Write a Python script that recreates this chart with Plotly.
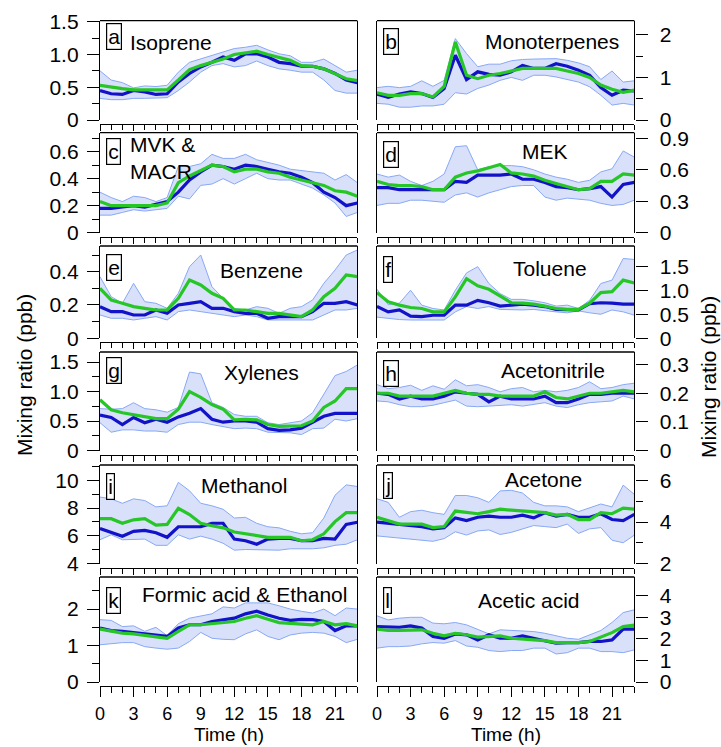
import plotly.graph_objects as go

W, H = 721, 747
hours = list(range(24))

# ---------------- data ----------------
isoprene_median = [0.45,0.40,0.39,0.45,0.43,0.39,0.40,0.58,0.71,0.81,0.88,0.96,0.91,1.01,1.01,0.96,0.88,0.86,0.82,0.82,0.78,0.71,0.61,0.57]
isoprene_mean   = [0.53,0.50,0.48,0.46,0.46,0.45,0.46,0.61,0.77,0.83,0.88,0.93,1.00,1.03,1.05,1.00,0.95,0.91,0.83,0.82,0.78,0.71,0.63,0.60]
isoprene_high   = [0.75,0.61,0.57,0.49,0.52,0.51,0.53,0.73,0.88,0.93,0.98,1.04,1.09,1.11,1.14,1.07,1.01,0.98,0.88,0.88,0.93,0.83,0.73,0.76]
isoprene_low    = [0.33,0.31,0.31,0.33,0.33,0.34,0.34,0.45,0.58,0.73,0.83,0.86,0.81,0.83,0.90,0.83,0.78,0.76,0.73,0.73,0.61,0.45,0.41,0.41]

monoterpenes_median = [0.61,0.53,0.61,0.66,0.62,0.53,0.74,1.52,0.95,1.13,1.07,1.05,1.13,1.28,1.21,1.21,1.32,1.26,1.17,1.05,0.76,0.58,0.70,0.68]
monoterpenes_mean   = [0.64,0.58,0.58,0.62,0.62,0.54,0.79,1.83,1.05,0.97,1.05,1.09,1.15,1.21,1.21,1.21,1.21,1.15,1.09,1.00,0.82,0.72,0.65,0.70]
monoterpenes_high   = [0.76,0.79,0.76,0.79,0.92,0.79,0.93,1.91,1.56,1.25,1.31,1.31,1.39,1.42,1.43,1.44,1.44,1.40,1.34,1.25,0.95,1.15,0.89,0.92]
monoterpenes_low    = [0.39,0.37,0.30,0.30,0.33,0.33,0.37,0.64,0.61,0.74,0.82,0.93,1.00,0.93,1.05,1.05,1.01,0.95,0.89,0.78,0.58,0.35,0.39,0.35]

mvk_median = [0.18,0.18,0.19,0.20,0.19,0.21,0.23,0.30,0.39,0.45,0.50,0.49,0.47,0.50,0.49,0.47,0.45,0.44,0.41,0.37,0.30,0.26,0.20,0.22]
mvk_mean   = [0.23,0.20,0.20,0.20,0.20,0.20,0.22,0.37,0.42,0.46,0.50,0.49,0.45,0.47,0.47,0.45,0.44,0.41,0.39,0.37,0.35,0.31,0.30,0.27]
mvk_high   = [0.30,0.26,0.23,0.27,0.26,0.23,0.26,0.49,0.49,0.51,0.58,0.55,0.55,0.58,0.54,0.52,0.50,0.47,0.46,0.45,0.44,0.39,0.43,0.37]
mvk_low    = [0.13,0.13,0.15,0.17,0.16,0.17,0.18,0.27,0.25,0.35,0.36,0.40,0.36,0.40,0.44,0.40,0.39,0.39,0.36,0.33,0.28,0.22,0.12,0.15]

mek_median = [0.43,0.43,0.41,0.41,0.41,0.41,0.41,0.49,0.48,0.55,0.55,0.55,0.56,0.51,0.51,0.48,0.44,0.43,0.41,0.42,0.44,0.34,0.46,0.48]
mek_mean   = [0.49,0.46,0.45,0.45,0.44,0.41,0.41,0.53,0.57,0.59,0.62,0.65,0.57,0.56,0.54,0.50,0.47,0.44,0.41,0.42,0.49,0.49,0.56,0.55]
mek_high   = [0.56,0.53,0.55,0.49,0.45,0.49,0.56,0.82,0.83,0.60,0.63,0.64,0.64,0.63,0.60,0.56,0.53,0.51,0.48,0.50,0.58,0.61,0.78,0.72]
mek_low    = [0.26,0.28,0.28,0.31,0.31,0.30,0.29,0.36,0.38,0.34,0.38,0.41,0.44,0.45,0.45,0.34,0.31,0.33,0.32,0.31,0.28,0.26,0.27,0.31]

benzene_median = [0.19,0.16,0.16,0.14,0.14,0.17,0.15,0.20,0.21,0.22,0.18,0.18,0.16,0.15,0.15,0.12,0.13,0.13,0.13,0.16,0.21,0.21,0.22,0.20]
benzene_mean   = [0.30,0.23,0.21,0.19,0.18,0.17,0.17,0.24,0.35,0.32,0.27,0.24,0.17,0.17,0.16,0.15,0.15,0.14,0.13,0.17,0.25,0.30,0.38,0.37]
benzene_high   = [0.37,0.25,0.21,0.33,0.22,0.21,0.18,0.27,0.43,0.50,0.31,0.24,0.18,0.17,0.19,0.18,0.15,0.18,0.19,0.23,0.33,0.41,0.50,0.53]
benzene_low    = [0.14,0.12,0.12,0.11,0.12,0.13,0.11,0.16,0.17,0.16,0.15,0.14,0.13,0.14,0.13,0.11,0.11,0.11,0.11,0.11,0.14,0.17,0.17,0.18]

toluene_median = [0.66,0.55,0.59,0.46,0.45,0.48,0.48,0.69,0.69,0.79,0.74,0.67,0.69,0.71,0.69,0.66,0.60,0.59,0.59,0.72,0.74,0.73,0.71,0.71]
toluene_mean   = [0.95,0.76,0.69,0.64,0.62,0.55,0.55,0.86,1.24,1.09,1.02,0.88,0.74,0.73,0.71,0.67,0.62,0.60,0.60,0.73,0.95,0.97,1.21,1.15]
toluene_high   = [1.02,0.70,0.73,1.00,0.69,0.62,0.59,1.00,1.36,1.49,1.14,0.93,0.81,0.81,0.78,0.74,0.67,0.69,0.62,0.79,1.14,1.21,1.66,1.64]
toluene_low    = [0.44,0.41,0.39,0.38,0.38,0.38,0.38,0.55,0.66,0.62,0.66,0.60,0.59,0.59,0.60,0.57,0.55,0.53,0.57,0.53,0.50,0.59,0.55,0.48]

xylenes_median = [0.60,0.56,0.44,0.56,0.47,0.53,0.48,0.57,0.63,0.71,0.53,0.48,0.50,0.50,0.48,0.37,0.34,0.35,0.38,0.48,0.58,0.63,0.63,0.63]
xylenes_mean   = [0.86,0.69,0.64,0.61,0.58,0.54,0.54,0.70,1.00,0.90,0.78,0.70,0.52,0.53,0.52,0.44,0.41,0.41,0.42,0.50,0.73,0.84,1.05,1.05]
xylenes_high   = [0.71,0.70,0.71,0.81,0.71,0.69,0.65,0.73,1.33,1.30,0.81,0.73,0.61,0.58,0.58,0.47,0.44,0.47,0.50,0.64,0.96,1.27,1.34,1.45]
xylenes_low    = [0.47,0.31,0.35,0.35,0.33,0.33,0.31,0.44,0.48,0.48,0.44,0.41,0.37,0.38,0.37,0.31,0.30,0.30,0.27,0.37,0.38,0.53,0.50,0.54]

acetonitrile_median = [0.200,0.196,0.180,0.190,0.180,0.180,0.190,0.205,0.200,0.196,0.170,0.190,0.180,0.180,0.180,0.190,0.167,0.167,0.180,0.196,0.196,0.200,0.200,0.200]
acetonitrile_mean   = [0.200,0.200,0.190,0.190,0.190,0.190,0.200,0.210,0.200,0.196,0.196,0.190,0.190,0.190,0.190,0.205,0.185,0.180,0.190,0.200,0.200,0.205,0.210,0.205]
acetonitrile_high   = [0.230,0.216,0.220,0.228,0.210,0.226,0.214,0.247,0.226,0.230,0.220,0.205,0.216,0.220,0.205,0.210,0.205,0.210,0.220,0.240,0.216,0.220,0.230,0.235]
acetonitrile_low    = [0.173,0.170,0.160,0.153,0.153,0.158,0.167,0.176,0.155,0.153,0.155,0.158,0.160,0.155,0.160,0.167,0.155,0.150,0.160,0.167,0.170,0.173,0.190,0.180]

methanol_median = [6.52,6.27,5.97,6.32,6.39,6.22,5.89,6.65,6.65,6.65,6.90,6.90,5.76,5.64,5.39,5.76,5.81,5.81,5.64,5.64,5.81,5.76,6.82,6.97]
methanol_mean   = [7.23,7.23,6.90,7.15,7.23,6.77,6.82,7.98,7.53,6.90,6.72,6.57,6.27,6.14,6.02,5.89,5.89,5.89,5.64,5.71,6.14,7.02,7.66,7.66]
methanol_high   = [8.79,8.66,8.34,8.66,8.54,8.08,8.16,9.85,9.24,8.34,8.16,7.91,7.28,7.33,6.90,6.65,6.57,6.32,6.14,6.22,7.28,8.92,9.67,9.55]
methanol_low    = [5.71,6.07,5.71,5.76,5.76,5.31,5.31,6.07,5.76,5.97,5.76,5.46,4.96,5.01,5.01,5.01,4.96,5.06,5.06,5.06,5.13,5.31,5.39,5.71]

acetone_median = [4.00,3.95,3.87,3.83,3.78,3.67,3.73,4.20,4.07,4.23,4.28,4.23,4.23,4.33,4.20,4.45,4.28,4.37,4.23,4.23,4.40,4.12,4.07,4.37]
acetone_mean   = [4.23,4.07,3.90,3.90,3.90,3.73,3.78,4.53,4.45,4.40,4.50,4.62,4.57,4.53,4.50,4.45,4.33,4.37,4.12,4.12,4.45,4.40,4.67,4.62]
acetone_high   = [5.12,4.95,4.23,4.50,4.57,4.45,4.37,5.28,5.28,5.17,4.95,5.50,5.53,5.40,4.95,4.78,4.78,4.73,4.50,4.70,4.87,4.73,5.78,5.33]
acetone_low    = [3.33,3.28,3.20,3.17,3.12,3.07,3.20,3.53,3.37,3.57,3.62,3.40,3.50,3.67,3.83,3.78,3.73,3.90,3.45,3.67,3.73,3.12,3.00,3.37]

formic_median = [1.48,1.41,1.39,1.36,1.34,1.29,1.25,1.48,1.57,1.57,1.66,1.71,1.75,1.87,1.94,1.84,1.75,1.69,1.72,1.71,1.66,1.41,1.54,1.54]
formic_mean   = [1.45,1.39,1.34,1.32,1.28,1.25,1.20,1.39,1.57,1.57,1.60,1.63,1.66,1.75,1.82,1.72,1.63,1.61,1.59,1.57,1.66,1.57,1.60,1.54]
formic_high   = [1.71,1.69,1.52,1.54,1.39,1.50,1.27,1.60,1.75,1.82,1.87,2.06,2.03,2.17,2.17,2.17,2.09,2.00,1.94,1.89,2.00,1.82,2.03,2.00]
formic_low    = [1.02,1.06,1.08,1.08,0.97,0.93,0.90,0.93,1.11,1.36,1.20,1.17,1.16,1.32,1.43,1.25,1.16,1.29,1.34,1.36,1.34,1.25,1.08,1.17]

acetic_median = [2.57,2.54,2.54,2.60,2.50,2.11,2.03,2.23,2.19,1.95,2.19,2.03,2.03,2.14,2.03,1.92,1.80,1.83,1.83,1.88,1.88,1.95,2.45,2.45]
acetic_mean   = [2.45,2.39,2.39,2.42,2.42,2.26,2.14,2.26,2.19,2.08,2.11,2.14,2.03,1.98,1.95,1.92,1.83,1.83,1.83,1.88,2.08,2.29,2.57,2.64]
acetic_high   = [3.07,2.88,2.96,3.00,3.00,2.73,2.70,2.76,2.65,2.45,2.23,2.42,2.39,2.39,2.34,2.26,2.14,2.03,1.98,2.19,2.39,2.76,3.22,3.35]
acetic_low    = [1.57,1.64,1.64,1.67,1.77,1.83,1.80,1.92,1.67,1.61,1.46,1.41,1.46,1.46,1.57,1.57,1.30,1.36,1.57,1.57,1.41,1.41,1.36,1.49]

# tick labels
x_tickvals = [0, 3, 6, 9, 12, 15, 18, 21]
x_ticktext = ["0", "3", "6", "9", "12", "15", "18", "21"]

# ---------------- panel table ----------------
panels = [
    ("a", "Isoprene", (isoprene_median, isoprene_mean, isoprene_high, isoprene_low), 0, 0,
     [0, 1.515], [0, 0.5, 1.0, 1.5], ["0", "0.5", "1.0", "1.5"], [0.25, 0.75, 1.25]),
    ("b", "Monoterpenes", (monoterpenes_median, monoterpenes_mean, monoterpenes_high, monoterpenes_low), 1, 0,
     [0, 2.33], [0, 1, 2], ["0", "1", "2"], [0.5, 1.5]),
    ("c", "MVK &amp;<br>MACR", (mvk_median, mvk_mean, mvk_high, mvk_low), 0, 1,
     [0, 0.74], [0, 0.2, 0.4, 0.6], ["0", "0.2", "0.4", "0.6"], [0.1, 0.3, 0.5, 0.7]),
    ("d", "MEK", (mek_median, mek_mean, mek_high, mek_low), 1, 1,
     [0, 0.954], [0, 0.3, 0.6, 0.9], ["0", "0.3", "0.6", "0.9"], []),
    ("e", "Benzene", (benzene_median, benzene_mean, benzene_high, benzene_low), 0, 2,
     [0, 0.554], [0, 0.2, 0.4], ["0", "0.2", "0.4"], [0.1, 0.3, 0.5]),
    ("f", "Toluene", (toluene_median, toluene_mean, toluene_high, toluene_low), 1, 2,
     [0, 1.92], [0, 0.5, 1.0, 1.5], ["0", "0.5", "1.0", "1.5"], []),
    ("g", "Xylenes", (xylenes_median, xylenes_mean, xylenes_high, xylenes_low), 0, 3,
     [0, 1.67], [0, 0.5, 1.0, 1.5], ["0", "0.5", "1.0", "1.5"], [0.25, 0.75, 1.25]),
    ("h", "Acetonitrile", (acetonitrile_median, acetonitrile_mean, acetonitrile_high, acetonitrile_low), 1, 3,
     [0, 0.344], [0, 0.1, 0.2, 0.3], ["0", "0.1", "0.2", "0.3"], []),
    ("i", "Methanol", (methanol_median, methanol_mean, methanol_high, methanol_low), 0, 4,
     [4, 11.1], [4, 6, 8, 10], ["4", "6", "8", "10"], [5, 7, 9, 11]),
    ("j", "Acetone", (acetone_median, acetone_mean, acetone_high, acetone_low), 1, 4,
     [2, 6.75], [2, 4, 6], ["2", "4", "6"], [3, 5]),
    ("k", "Formic acid &amp; Ethanol", (formic_median, formic_mean, formic_high, formic_low), 0, 5,
     [0, 2.88], [0, 1, 2], ["0", "1", "2"], [0.5, 1.5, 2.5]),
    ("l", "Acetic acid", (acetic_median, acetic_mean, acetic_high, acetic_low), 1, 5,
     [0, 4.87], [0, 1, 2, 3, 4], ["0", "1", "2", "3", "4"], []),
]

# layout geometry in pixels
row_top = [20.7, 132.7, 246, 352, 465, 577]
row_bot = [120, 232.7, 338.3, 450.5, 563.5, 682]
col_x = [(100, 357.4), (377, 634.4)]
name_pos = {
    "a": (128, "left", 42), "b": (552, "center", 41), "c": (128, "left", 158),
    "d": (545, "center", 152), "e": (261, "center", 270), "f": (550, "center", 268),
    "g": (261, "center", 372), "h": (553, "center", 371), "i": (244, "center", 485),
    "j": (543, "center", 479), "k": (244, "center", 594), "l": (529, "center", 600),
}
box_y = {"a": 36, "b": 41, "c": 152, "d": 154, "e": 267, "f": 269,
         "g": 371, "h": 373, "i": 486, "j": 485, "k": 600, "l": 600}

FONT = "Liberation Sans, Arial, sans-serif"
FS = 21
XFS = 18
BLUE = "#1212C8"
GREEN = "#26C626"
BAND = "#D8E0FA"
EDGE = "#88A8F6"

fig = go.Figure()
layout = dict(
    template="none",
    width=W, height=H, autosize=False, margin=dict(l=0, r=0, t=0, b=0, pad=0),
    paper_bgcolor="white", plot_bgcolor="white", showlegend=False,
    font=dict(family=FONT, size=FS, color="black"),
)
shapes = []
annotations = []

for idx, (letter, name, data, col, row, yr, tv, tt, minor_tv) in enumerate(panels):
    n = "" if idx == 0 else str(idx + 1)
    med, mean, high, low = data
    xa, ya = "x" + n, "y" + n
    common = dict(xaxis=xa, yaxis=ya, mode="lines", showlegend=False, hoverinfo="skip")
    fig.add_trace(go.Scatter(x=hours, y=low, line=dict(color=EDGE, width=1), **common))
    fig.add_trace(go.Scatter(x=hours, y=high, line=dict(color=EDGE, width=1),
                             fill="tonexty", fillcolor=BAND, **common))
    fig.add_trace(go.Scatter(x=hours, y=med, line=dict(color=BLUE, width=3.2), **common))
    fig.add_trace(go.Scatter(x=hours, y=mean, line=dict(color=GREEN, width=3.2), **common))

    x0, x1 = col_x[col]
    top, bot = row_top[row], row_bot[row]
    bottom_row = row == 5
    layout["xaxis" + n] = dict(
        domain=[x0 / W, x1 / W], range=[0, 23], anchor="free",
        position=1 - (bot + 4) / H, automargin=False,
        showline=True, linecolor="black", linewidth=1.3,
        ticks="outside", tickvals=x_tickvals, ticktext=x_ticktext,
        ticklen=10 if bottom_row else 6, tickwidth=1.3, tickcolor="black",
        minor=dict(tickmode="linear", tick0=0, dtick=1, ticks="outside",
                   ticklen=6 if bottom_row else 5, tickwidth=1.3, tickcolor="black"),
        showticklabels=bottom_row, ticklabelstandoff=1,
        showgrid=False, zeroline=False, fixedrange=True,
        tickfont=dict(family=FONT, size=XFS, color="black"),
    )
    ydict = dict(
        domain=[1 - bot / H, 1 - top / H], range=yr, anchor="x" + n,
        side="left" if col == 0 else "right", automargin=False,
        showline=True, mirror=True, linecolor="black", linewidth=1.3,
        ticks="outside", tickvals=tv, ticktext=tt, ticklen=12, tickwidth=1.3,
        tickcolor="black", ticklabelstandoff=4 if col == 0 else 8,
        showgrid=False, zeroline=False, fixedrange=True,
        tickfont=dict(family=FONT, size=FS, color="black"),
    )
    if minor_tv:
        ydict["minor"] = dict(tickmode="array", tickvals=minor_tv, ticks="outside",
                              ticklen=7, tickwidth=1.3, tickcolor="black")
    layout["yaxis" + n] = ydict

    shapes.append(dict(type="line", xref="paper", yref="paper",
                       x0=x0 / W, x1=x1 / W, y0=1 - top / H, y1=1 - top / H,
                       line=dict(color="black", width=1.3)))

    bx = x0 + 6
    annotations.append(dict(
        text=letter, xref="paper", yref="paper", x=bx / W, y=1 - box_y[letter] / H,
        xanchor="left", yanchor="middle", showarrow=False,
        font=dict(family=FONT, size=FS, color="black"),
        bordercolor="black", borderwidth=1.2, borderpad=1, bgcolor="white",
    ))
    nx, nanchor, ny = name_pos[letter]
    annotations.append(dict(
        text=name, xref="paper", yref="paper", x=nx / W, y=1 - ny / H,
        xanchor=nanchor, yanchor="middle", align="left", showarrow=False,
        font=dict(family=FONT, size=FS, color="black"),
    ))

annotations.append(dict(text="Mixing ratio (ppb)", xref="paper", yref="paper",
                        x=24 / W, y=1 - 375 / H, textangle=-90, showarrow=False,
                        xanchor="center", yanchor="middle",
                        font=dict(family=FONT, size=FS, color="black")))
annotations.append(dict(text="Mixing ratio (ppb)", xref="paper", yref="paper",
                        x=709 / W, y=1 - 377 / H, textangle=-90, showarrow=False,
                        xanchor="center", yanchor="middle",
                        font=dict(family=FONT, size=FS, color="black")))
for cx in (228.7, 505.7):
    annotations.append(dict(text="Time (h)", xref="paper", yref="paper",
                            x=cx / W, y=1 - 734.5 / H, showarrow=False,
                            xanchor="center", yanchor="middle",
                            font=dict(family=FONT, size=19, color="black")))

layout["shapes"] = shapes
layout["annotations"] = annotations
fig.update_layout(**layout)
fig.write_html("out.html", config={"displayModeBar": False},
               post_script="document.body.style.margin='0';document.body.style.padding='0';")
